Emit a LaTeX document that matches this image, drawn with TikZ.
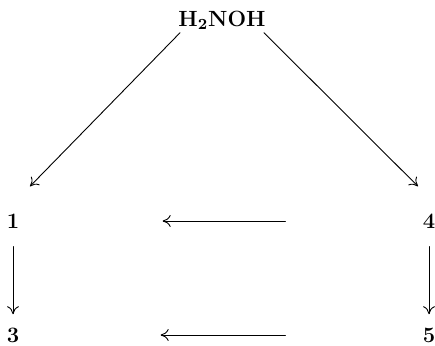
\documentclass[tikz,border=0pt]{standalone}
\usepackage{amsfonts,amsmath,amssymb}
\usepackage{tikz}
\usetikzlibrary{arrows.meta}
\tikzset{
  every picture/.style={line join=round, line cap=round, >={To[length=4pt,width=6pt]}},
  lbl/.style={inner sep=0pt, font=\fontsize{11}{13}\selectfont\bfseries},
}

\begin{document}
\begin{tikzpicture}[->,x=0.5pt,y=0.5pt,line width=0.45pt]
\useasboundingbox (0,0) rectangle (435,345);
\node[lbl](h2noh) at (222,325) {H\textsubscript{2}NOH};
\node[lbl](n1) at (13,124) {1};
\node[lbl](n4) at (429,124) {4};
\node[lbl](n3) at (13,10) {3};
\node[lbl](n5) at (429,10) {5};
\draw([xshift=1pt,yshift=-1.5pt]h2noh.south west)--([xshift=8.5pt,yshift=13.5pt]n1.north);
\draw([xshift=-1pt,yshift=-1.5pt]h2noh.south east)--([xshift=-5.5pt,yshift=13.5pt]n4.north);
\draw[shorten <=68.5pt,shorten >=71.5pt](n4)--(n1);
\draw[shorten <=68.5pt,shorten >=70.5pt](n5)--(n3);
\draw[shorten <=9pt,shorten >=6.5pt](n1)--(n3);
\draw[shorten <=9pt,shorten >=6.5pt](n4)--(n5);
\end{tikzpicture}
\end{document}
